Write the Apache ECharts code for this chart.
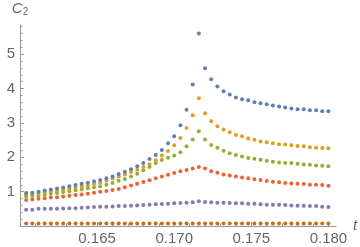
<!DOCTYPE html>
<html><head><meta charset="utf-8">
<script src="https://cdn.jsdelivr.net/npm/echarts@6/dist/echarts.min.js"></script>
<style>html,body{margin:0;padding:0;background:#fff}#c{width:360px;height:247px}</style>
</head><body><div id="c"></div>
<script>
const tValues = [0.1604,0.1608,0.1612,0.1616,0.1620,0.1624,0.1628,0.1632,0.1636,0.1640,
0.1644,0.1648,0.1652,0.1656,0.1660,0.1664,0.1668,0.1672,0.1676,0.1680,
0.1684,0.1688,0.1692,0.1696,0.1700,0.1704,0.1708,0.1712,0.1716,0.1720,
0.1724,0.1728,0.1732,0.1736,0.1740,0.1744,0.1748,0.1752,0.1756,0.1760,
0.1764,0.1768,0.1772,0.1776,0.1780,0.1784,0.1788,0.1792,0.1796,0.1800];
const seriesBlue = [0.96,0.97,1.00,1.03,1.06,1.09,1.12,1.16,1.19,1.23,
1.26,1.30,1.34,1.39,1.44,1.51,1.58,1.65,1.74,1.83,
1.95,2.07,2.21,2.41,2.61,2.93,3.38,4.12,5.60,4.59,
4.27,4.06,3.92,3.83,3.74,3.69,3.66,3.60,3.57,3.54,
3.51,3.48,3.45,3.42,3.40,3.40,3.37,3.37,3.34,3.34];
const seriesOrange = [0.91,0.93,0.95,0.98,1.01,1.03,1.06,1.09,1.12,1.15,
1.18,1.22,1.26,1.32,1.38,1.44,1.50,1.57,1.64,1.72,
1.80,1.91,2.05,2.18,2.35,2.56,2.85,3.22,3.72,3.28,
3.05,2.90,2.81,2.73,2.65,2.61,2.55,2.51,2.46,2.44,
2.41,2.38,2.37,2.35,2.33,2.32,2.29,2.28,2.27,2.26];
const seriesGreen = [0.86,0.87,0.89,0.91,0.94,0.96,0.99,1.01,1.04,1.07,
1.10,1.13,1.16,1.20,1.25,1.32,1.37,1.44,1.52,1.62,
1.72,1.83,1.92,1.99,2.05,2.15,2.32,2.52,2.76,2.52,
2.36,2.28,2.19,2.12,2.07,2.02,1.98,1.96,1.93,1.90,
1.87,1.85,1.83,1.83,1.81,1.79,1.78,1.76,1.75,1.74];
const seriesRed = [0.76,0.77,0.79,0.81,0.83,0.84,0.86,0.88,0.90,0.92,
0.94,0.97,1.00,1.02,1.05,1.08,1.13,1.18,1.23,1.28,
1.33,1.39,1.44,1.49,1.54,1.59,1.63,1.67,1.72,1.67,
1.59,1.55,1.50,1.47,1.44,1.41,1.39,1.36,1.34,1.31,
1.29,1.27,1.25,1.24,1.23,1.22,1.20,1.20,1.19,1.17];
const seriesPurple = [0.47,0.47,0.50,0.50,0.50,0.50,0.51,0.52,0.52,0.53,
0.54,0.55,0.56,0.56,0.57,0.58,0.58,0.59,0.60,0.61,
0.62,0.63,0.64,0.65,0.66,0.67,0.68,0.69,0.72,0.70,
0.69,0.68,0.68,0.67,0.66,0.66,0.65,0.65,0.63,0.62,
0.62,0.62,0.61,0.60,0.59,0.59,0.58,0.58,0.56,0.55];
const seriesBrown = [0.07,0.07,0.07,0.07,0.07,0.07,0.07,0.07,0.07,0.07,
0.07,0.07,0.07,0.07,0.07,0.07,0.07,0.07,0.07,0.07,
0.07,0.07,0.07,0.07,0.07,0.07,0.07,0.07,0.07,0.07,
0.07,0.07,0.07,0.07,0.07,0.07,0.07,0.07,0.07,0.07,
0.07,0.07,0.07,0.07,0.07,0.07,0.07,0.07,0.07,0.07];
const xMajorTicks = [0.165,0.170,0.175,0.180];
const xMinorTicks = [0.161,0.162,0.163,0.164,0.166,0.167,0.168,0.169,0.171,0.172,0.173,0.174,0.176,0.177,0.178,0.179];
const yMajorTicks = [1,2,3,4,5];
const yMinorTicks = [0.2,0.4,0.6,0.8,1.2,1.4,1.6,1.8,2.2,2.4,2.6,2.8,3.2,3.4,3.6,3.8,4.2,4.4,4.6,4.8,5.2,5.4,5.6,5.8];

const names = ['s1','s2','s3','s4','s5','s6'];
const colors = ['#5E81B5','#E19C24','#8FB032','#EB6235','#8778B3','#C56E1A'];
const allData = [seriesBlue, seriesOrange, seriesGreen, seriesRed, seriesPurple, seriesBrown];

const axisGray = '#999999';
const labelGray = '#666666';
const font = 'Liberation Sans';
const X_MIN = 0.160, X_MAX = 0.1805, Y_MIN = 0, Y_MAX = 5.85;

const chart = echarts.init(document.getElementById('c'), null, {renderer:'canvas'});
chart.setOption({
  animation: false,
  grid: {left: 20, right: 14, top: 25, bottom: 21, containLabel: false},
  xAxis: [{
    type: 'value', min: X_MIN, max: X_MAX,
    name: 't', nameLocation: 'end', nameGap: 7,
    nameTextStyle: {fontFamily: font, fontStyle: 'italic', fontSize: 15, color: labelGray},
    axisLine: {show: true, lineStyle: {color: axisGray, width: 1}},
    axisTick: {show: true, inside: true, length: 4, customValues: xMajorTicks, lineStyle: {color: axisGray}},
    axisLabel: {show: true, customValues: xMajorTicks, margin: 5, fontFamily: font, fontSize: 15, color: labelGray,
      formatter: v => v.toFixed(3)},
    splitLine: {show: false}
  },{
    type: 'value', min: X_MIN, max: X_MAX, position: 'bottom',
    axisLine: {show: false},
    axisTick: {show: true, inside: true, length: 2.5, customValues: xMinorTicks, lineStyle: {color: axisGray}},
    axisLabel: {show: false},
    splitLine: {show: false}
  }],
  yAxis: [{
    type: 'value', min: Y_MIN, max: Y_MAX,
    name: '{c|C}{s|2}', nameLocation: 'end', nameGap: 8,
    nameTextStyle: {fontFamily: font, color: labelGray, align: 'center',
      rich: {
        c: {fontFamily: font, fontStyle: 'italic', fontSize: 15, color: labelGray, lineHeight: 16, verticalAlign: 'middle'},
        s: {fontFamily: font, fontSize: 10, color: labelGray, lineHeight: 16, verticalAlign: 'bottom', padding: [6,0,0,0]}
      }},
    axisLine: {show: true, lineStyle: {color: axisGray, width: 1}},
    axisTick: {show: true, inside: true, length: 4, customValues: yMajorTicks, lineStyle: {color: axisGray}},
    axisLabel: {show: true, customValues: yMajorTicks, margin: 5, fontFamily: font, fontSize: 15, color: labelGray},
    splitLine: {show: false}
  },{
    type: 'value', min: Y_MIN, max: Y_MAX, position: 'left',
    axisLine: {show: false},
    axisTick: {show: true, inside: true, length: 2.5, customValues: yMinorTicks, lineStyle: {color: axisGray}},
    axisLabel: {show: false},
    splitLine: {show: false}
  }],
  series: allData.map((d, i) => ({
    name: names[i], type: 'scatter', xAxisIndex: 0, yAxisIndex: 0,
    symbol: 'circle', symbolSize: 4,
    itemStyle: {color: colors[i], opacity: 1},
    data: d.map((v, k) => [tValues[k], v]),
    z: 10 - i
  }))
});
</script></body></html>
